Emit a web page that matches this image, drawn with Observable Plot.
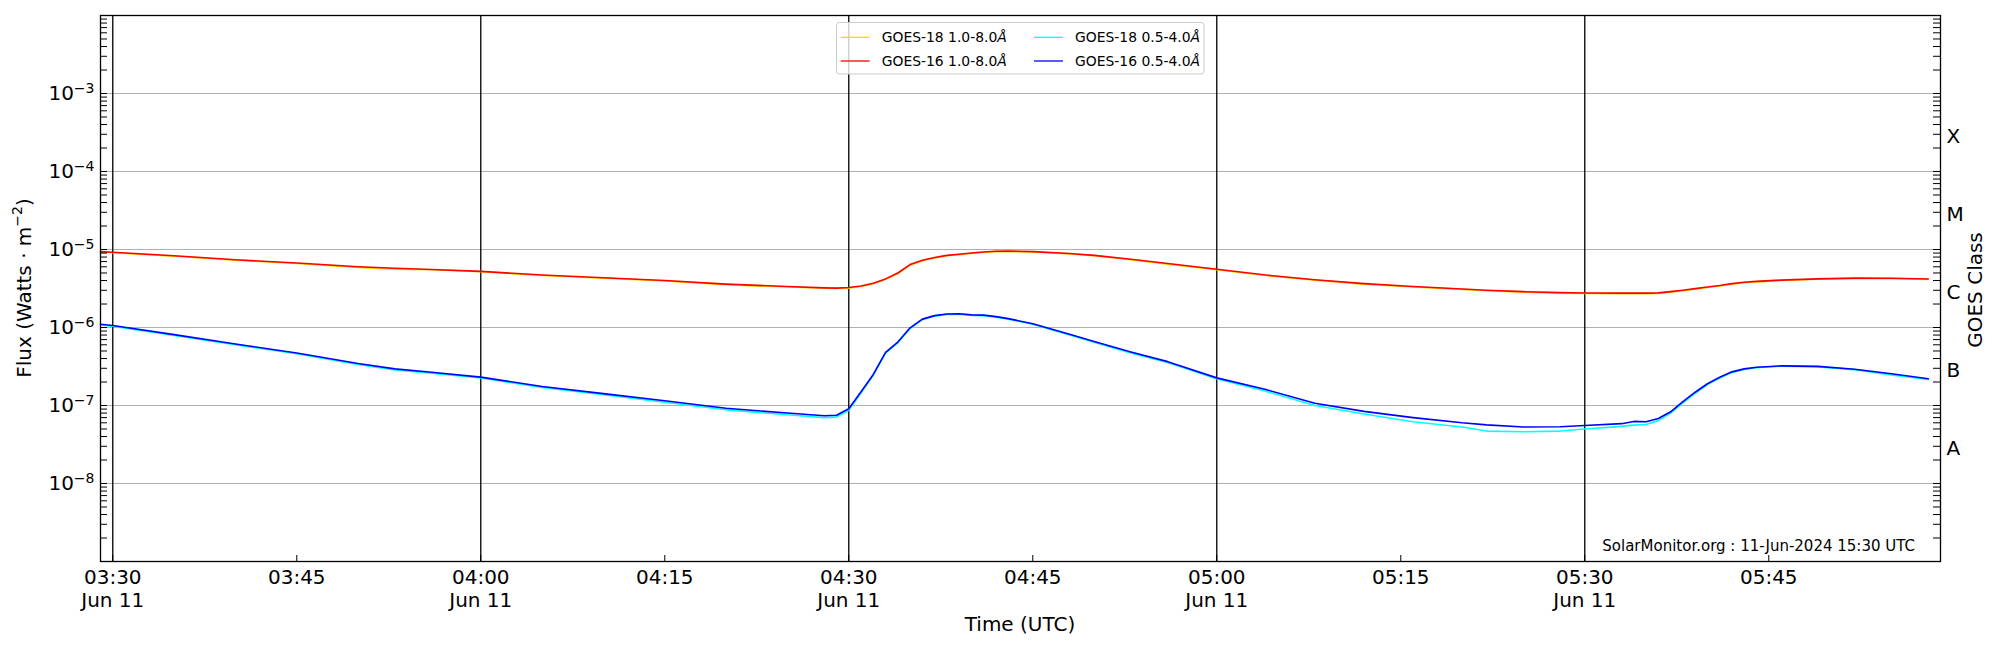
<!DOCTYPE html>
<html><head><meta charset="utf-8">
<script src="https://cdn.jsdelivr.net/npm/d3@7"></script>
<script src="https://cdn.jsdelivr.net/npm/@observablehq/plot@0.6"></script>
<style>body{margin:0;background:#fff;} svg{display:block}</style>
</head><body><div id="chart"></div>
<script>
const times = ["03:29","03:30","03:35","03:40","03:45","03:50","03:53","03:56","04:00","04:05","04:10","04:15","04:20","04:25","04:28","04:29","04:30","04:31","04:32","04:33","04:34","04:35","04:36","04:37","04:38","04:39","04:40","04:41","04:42","04:43","04:45","04:48","04:50","04:53","04:56","05:00","05:04","05:08","05:12","05:16","05:20","05:22","05:25","05:28","05:30","05:33","05:34","05:35","05:36","05:37","05:38","05:39","05:40","05:41","05:42","05:43","05:44","05:46","05:49","05:52","05:55","05:58"];

const goes18Long = [9.3e-6,9.1e-6,8.2e-6,7.3e-6,6.6e-6,5.9e-6,5.6e-6,5.5e-6,5.2e-6,4.65e-6,4.3e-6,3.95e-6,3.55e-6,3.3e-6,3.18e-6,3.16e-6,3.2e-6,3.35e-6,3.65e-6,4.15e-6,4.9e-6,6.3e-6,7.2e-6,7.8e-6,8.3e-6,8.6e-6,8.9e-6,9.2e-6,9.4e-6,9.45e-6,9.3e-6,8.8e-6,8.3e-6,7.4e-6,6.5e-6,5.5e-6,4.65e-6,4.05e-6,3.6e-6,3.3e-6,3.08e-6,2.96e-6,2.84e-6,2.76e-6,2.73e-6,2.72e-6,2.72e-6,2.72e-6,2.74e-6,2.84e-6,2.96e-6,3.1e-6,3.25e-6,3.4e-6,3.6e-6,3.75e-6,3.85e-6,4.0e-6,4.15e-6,4.25e-6,4.23e-6,4.14e-6];

const goes16Long = [9.4e-6,9.2e-6,8.3e-6,7.4e-6,6.7e-6,6.0e-6,5.75e-6,5.55e-6,5.25e-6,4.7e-6,4.35e-6,4.0e-6,3.6e-6,3.35e-6,3.22e-6,3.2e-6,3.25e-6,3.4e-6,3.7e-6,4.2e-6,5.0e-6,6.4e-6,7.3e-6,7.9e-6,8.4e-6,8.7e-6,9.0e-6,9.3e-6,9.5e-6,9.55e-6,9.4e-6,8.9e-6,8.4e-6,7.5e-6,6.6e-6,5.57e-6,4.7e-6,4.1e-6,3.65e-6,3.35e-6,3.12e-6,3.0e-6,2.88e-6,2.8e-6,2.77e-6,2.76e-6,2.76e-6,2.76e-6,2.78e-6,2.88e-6,3.0e-6,3.15e-6,3.3e-6,3.45e-6,3.65e-6,3.8e-6,3.9e-6,4.05e-6,4.2e-6,4.3e-6,4.28e-6,4.19e-6];

const goes18Short = [1.08e-6,1.04e-6,7.9e-7,6.0e-7,4.6e-7,3.35e-7,2.85e-7,2.6e-7,2.25e-7,1.7e-7,1.38e-7,1.1e-7,8.8e-8,7.6e-8,7.0e-8,7.1e-8,8.7e-8,1.45e-7,2.45e-7,4.7e-7,6.4e-7,9.7e-7,1.26e-6,1.4e-6,1.47e-6,1.48e-6,1.43e-6,1.42e-6,1.36e-6,1.28e-6,1.1e-6,8.0e-7,6.45e-7,4.7e-7,3.55e-7,2.2e-7,1.52e-7,1.0e-7,7.8e-8,6.2e-8,5.3e-8,4.7e-8,4.6e-8,4.7e-8,5.0e-8,5.4e-8,5.6e-8,5.7e-8,6.4e-8,8.0e-8,1.08e-7,1.43e-7,1.85e-7,2.25e-7,2.65e-7,2.9e-7,3.05e-7,3.2e-7,3.13e-7,2.88e-7,2.47e-7,2.15e-7];

const goes16Short = [1.1e-6,1.06e-6,8.1e-7,6.15e-7,4.7e-7,3.45e-7,2.95e-7,2.67e-7,2.31e-7,1.75e-7,1.42e-7,1.15e-7,9.2e-8,8.0e-8,7.4e-8,7.5e-8,9.1e-8,1.5e-7,2.5e-7,4.8e-7,6.5e-7,9.9e-7,1.28e-6,1.42e-6,1.49e-6,1.5e-6,1.45e-6,1.44e-6,1.38e-6,1.3e-6,1.12e-6,8.2e-7,6.6e-7,4.85e-7,3.65e-7,2.26e-7,1.6e-7,1.07e-7,8.4e-8,7.0e-8,6.0e-8,5.65e-8,5.3e-8,5.35e-8,5.55e-8,5.85e-8,6.25e-8,6.2e-8,6.8e-8,8.3e-8,1.12e-7,1.48e-7,1.9e-7,2.3e-7,2.7e-7,2.95e-7,3.1e-7,3.22e-7,3.17e-7,2.92e-7,2.55e-7,2.2e-7];

const seriesNames = ["GOES-18 1.0-8.0Å","GOES-16 1.0-8.0Å","GOES-18 0.5-4.0Å","GOES-16 0.5-4.0Å"];
const seriesColors = ["gold","red","cyan","blue"];
const classLabels = ["A","B","C","M","X"];
const classExponents = [-7.5,-6.5,-5.5,-4.5,-3.5];
const decadeExponents = [-8,-7,-6,-5,-4,-3];
const xTickTimes = ["03:30","03:45","04:00","04:15","04:30","04:45","05:00","05:15","05:30","05:45"];
const majorTimes = ["03:30","04:00","04:30","05:00","05:30"];
const xDomain = ["03:29","05:59"];
const dateLabel = "Jun 11";
const watermark = "SolarMonitor.org : 11-Jun-2024 15:30 UTC";

const parse = t => new Date(`2024-06-11T${t}:00Z`);
const seriesValues = [goes18Long, goes16Long, goes18Short, goes16Short];
const rows = [];
seriesValues.forEach((vals, si) => times.forEach((t, i) => rows.push({time: parse(t), flux: vals[i], series: seriesNames[si]})));
const classRows = classLabels.map((c, i) => ({label: c, flux: 10 ** classExponents[i]}));

const yTickValues = [];
for (let e = -9; e <= -3; e++) for (let m = 1; m <= 9; m++) yTickValues.push(m * 10 ** e);
yTickValues.push(1e-2);

const W = 2000, H = 650, mL = 100, mR = 60, mT = 15, mB = 89;
const innerW = W - mL - mR, innerH = H - mT - mB;
const pad = n => String(n).padStart(2, "0");

const svg = Plot.plot({
  width: W, height: H, marginLeft: mL, marginRight: mR, marginTop: mT, marginBottom: mB,
  style: {fontFamily: "DejaVu Sans", fontSize: "20px", background: "white", color: "black", overflow: "visible"},
  x: {type: "utc", domain: xDomain.map(parse)},
  y: {type: "log", domain: [1e-9, 1e-2]},
  color: {domain: seriesNames, range: seriesColors},
  marks: [
    Plot.ruleY(decadeExponents.map(e => 10 ** e), {stroke: "#b0b0b0", strokeWidth: 1}),
    Plot.ruleX(majorTimes.map(parse), {stroke: "black", strokeWidth: 1.3}),
    Plot.line(rows, {x: "time", y: "flux", z: "series", stroke: "series", strokeWidth: 1.6}),
    Plot.ruleY(yTickValues, {insetRight: innerW - 7, stroke: "black", strokeWidth: 1}),
    Plot.ruleY(yTickValues, {insetLeft: innerW - 7, stroke: "black", strokeWidth: 1}),
    Plot.ruleX(xTickTimes.map(parse), {insetTop: innerH - 6, stroke: "black", strokeWidth: 1}),
    Plot.frame({stroke: "black", strokeWidth: 1.3}),
    Plot.axisY({anchor: "left", ticks: decadeExponents.map(e => 10 ** e), tickSize: 0, tickPadding: 6,
      tickFormat: d => "10^" + Math.round(Math.log10(d)), label: null, fontSize: 20}),
    Plot.text(classRows, {y: "flux", text: "label", frameAnchor: "right", dx: 6, dy: 4, textAnchor: "start", fontSize: 20, fill: "black"}),
    Plot.axisX({anchor: "bottom", ticks: xTickTimes.map(parse), tickSize: 0, tickPadding: 6, label: null, fontSize: 20, lineHeight: 1.15,
      tickFormat: d => {
        const s = `${pad(d.getUTCHours())}:${pad(d.getUTCMinutes())}`;
        return d.getUTCMinutes() % 30 === 0 ? `${s}\n${dateLabel}` : s;
      }})
  ]
});
document.getElementById("chart").appendChild(svg);

const NS = "http://www.w3.org/2000/svg";
svg.querySelectorAll('g[aria-label="y-axis tick label"] text').forEach(t => {
  const m = t.textContent.match(/^10\^(-?\d+)$/);
  if (m) {
    t.textContent = "";
    const a = document.createElementNS(NS, "tspan"); a.textContent = "10"; t.appendChild(a);
    const b = document.createElementNS(NS, "tspan"); b.textContent = "\u2212" + m[1].replace("-", "");
    b.setAttribute("font-size", "14px"); b.setAttribute("dy", "-7"); t.appendChild(b);
  }
});

const s = d3.select(svg);
const fontFam = "DejaVu Sans";
// y label
const yl = s.append("text").attr("transform", "translate(24,288) rotate(-90)").attr("text-anchor", "middle")
  .attr("dominant-baseline", "central").attr("font-family", fontFam).attr("font-size", 20).attr("fill", "black");
yl.append("tspan").text("Flux (Watts \u00b7 m");
yl.append("tspan").attr("font-size", 14).attr("dy", -7).text("\u22122");
yl.append("tspan").attr("dy", 7).text(")");
// right label
s.append("text").attr("transform", "translate(1975,290) rotate(-90)").attr("text-anchor", "middle")
  .attr("dominant-baseline", "central").attr("font-family", fontFam).attr("font-size", 20).attr("fill", "black").text("GOES Class");
// x label
s.append("text").attr("x", mL + innerW / 2).attr("y", 631).attr("text-anchor", "middle")
  .attr("font-family", fontFam).attr("font-size", 20).attr("fill", "black").text("Time (UTC)");
// watermark
s.append("text").attr("x", 1915).attr("y", 551).attr("text-anchor", "end")
  .attr("font-family", fontFam).attr("font-size", 15).attr("fill", "black").text(watermark);
// legend
const lg = s.append("g").attr("font-family", fontFam).attr("font-size", 13.9).attr("text-anchor", "start");
lg.append("rect").attr("x", 836.5).attr("y", 22.5).attr("width", 367.5).attr("height", 51.5).attr("rx", 3)
  .attr("fill", "white").attr("fill-opacity", 0.8).attr("stroke", "#cccccc").attr("stroke-width", 1);
const pos = [[840.7, 37.3], [840.7, 61], [1034, 37.3], [1034, 61]];
seriesNames.forEach((name, i) => {
  const [lx, ly] = pos[i];
  lg.append("line").attr("x1", lx).attr("x2", lx + 29).attr("y1", ly).attr("y2", ly).attr("stroke", seriesColors[i]).attr("stroke-width", 1.3);
  const t = lg.append("text").attr("x", lx + 41).attr("y", ly).attr("dominant-baseline", "central")
    .attr("text-anchor", "start").attr("fill", "black");
  t.append("tspan").text(name.slice(0, -1));
  t.append("tspan").attr("font-style", "italic").text(name.slice(-1));
});
</script></body></html>
